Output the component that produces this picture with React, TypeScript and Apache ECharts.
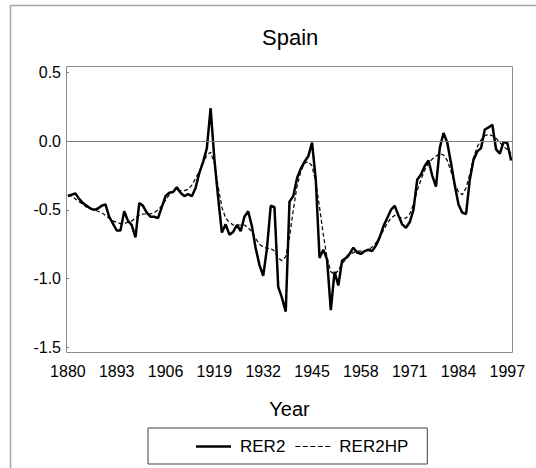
import React, { useEffect, useRef } from "react";
import * as echarts from "echarts";

// Categories: years 1880..1998
const FIRST_YEAR = 1880;
const LAST_YEAR = 1998;
const years: string[] = [];
for (let y = FIRST_YEAR; y <= LAST_YEAR; y++) years.push(String(y));

// RER2 (solid), 1880..1998
const rer2: number[] = [
  -0.40, -0.39, -0.38, -0.42, -0.45, -0.47, -0.49, -0.50, -0.49, -0.47, // 1880-1889
  -0.46, -0.55, -0.60, -0.65, -0.65, -0.51, -0.58, -0.61, -0.70, -0.45, // 1890-1899
  -0.47, -0.52, -0.55, -0.55, -0.56, -0.48, -0.40, -0.375, -0.37, -0.335, // 1900-1909
  -0.375, -0.40, -0.385, -0.40, -0.34, -0.23, -0.15, -0.05, 0.24, -0.13, // 1910-1919
  -0.41, -0.665, -0.605, -0.68, -0.66, -0.61, -0.655, -0.55, -0.51, -0.62, // 1920-1929
  -0.78, -0.90, -0.98, -0.78, -0.47, -0.48, -1.06, -1.14, -1.24, -0.44, // 1930-1939
  -0.40, -0.27, -0.20, -0.15, -0.11, -0.01, -0.28, -0.85, -0.79, -0.86, // 1940-1949
  -1.23, -0.95, -1.05, -0.87, -0.85, -0.82, -0.775, -0.81, -0.82, -0.80, // 1950-1959
  -0.79, -0.80, -0.76, -0.70, -0.62, -0.56, -0.50, -0.47, -0.54, -0.605, // 1960-1969
  -0.63, -0.59, -0.50, -0.28, -0.243, -0.18, -0.14, -0.25, -0.33, -0.05, // 1970-1979
  0.06, -0.01, -0.16, -0.32, -0.46, -0.52, -0.53, -0.28, -0.134, -0.074, // 1980-1989
  -0.05, 0.085, 0.10, 0.12, -0.06, -0.09, -0.005, -0.015, -0.14, // 1990-1998
];

// RER2HP (dashed, HP trend), 1880..1998
const rer2hp: number[] = [
  -0.39, -0.40, -0.42, -0.44, -0.46, -0.48, -0.49, -0.50, -0.51, -0.52, // 1880-1889
  -0.54, -0.56, -0.58, -0.59, -0.60, -0.60, -0.59, -0.58, -0.56, -0.54, // 1890-1899
  -0.53, -0.53, -0.53, -0.52, -0.50, -0.47, -0.43, -0.39, -0.37, -0.36, // 1900-1909
  -0.36, -0.36, -0.35, -0.32, -0.27, -0.22, -0.16, -0.10, -0.08, -0.16, // 1910-1919
  -0.33, -0.48, -0.56, -0.59, -0.61, -0.61, -0.61, -0.61, -0.63, -0.66, // 1920-1929
  -0.71, -0.75, -0.77, -0.78, -0.78, -0.80, -0.85, -0.87, -0.84, -0.70, // 1930-1939
  -0.50, -0.33, -0.22, -0.16, -0.15, -0.18, -0.30, -0.48, -0.68, -0.85, // 1940-1949
  -0.95, -0.97, -0.94, -0.89, -0.86, -0.83, -0.81, -0.80, -0.80, -0.80, // 1950-1959
  -0.79, -0.77, -0.74, -0.70, -0.65, -0.60, -0.56, -0.54, -0.55, -0.56, // 1960-1969
  -0.56, -0.53, -0.46, -0.36, -0.28, -0.21, -0.16, -0.13, -0.11, -0.09, // 1970-1979
  -0.10, -0.14, -0.22, -0.31, -0.37, -0.39, -0.34, -0.24, -0.12, -0.04, // 1980-1989
  0.01, 0.04, 0.05, 0.04, 0.02, -0.01, -0.04, -0.06, -0.09, // 1990-1998
];

const FONT = '"Liberation Sans", Arial, Helvetica, sans-serif';

// Legend sample icons (35 x 14 boxes): a solid bar and five short dashes
const SOLID_ICON = "path://M0,0L0,0M35,14L35,14M0,5.75H35V8.25H0Z";
const DASH_ICON =
  "path://M0,0L0,0M35,14L35,14" +
  "M0,6.4H5V7.6H0Z" +
  "M7.5,6.4H12.5V7.6H7.5Z" +
  "M15,6.4H20V7.6H15Z" +
  "M22.5,6.4H27.5V7.6H22.5Z" +
  "M30,6.4H35V7.6H30Z";

export default function App() {
  const ref = useRef<HTMLDivElement>(null);

  useEffect(() => {
    if (!ref.current) return;
    const chart = echarts.init(ref.current, null, { renderer: "svg" });
    chart.setOption({
      animation: false,
      backgroundColor: "#ffffff",
      title: {
        text: "Spain",
        left: 262,
        top: 26,
        padding: 0,
        textStyle: { fontFamily: FONT, fontSize: 22, fontWeight: "normal", color: "#000" },
      },
      grid: { left: 66, right: 23, top: 72.5, bottom: 120.7, containLabel: false },
      xAxis: {
        type: "category",
        data: years,
        boundaryGap: true,
        axisLine: { show: false },
        axisTick: { show: false },
        splitLine: { show: false },
        axisLabel: { interval: 12, fontSize: 16, color: "#000", fontFamily: FONT, margin: 16 },
        name: "Year",
        nameLocation: "middle",
        nameGap: 52,
        nameTextStyle: { fontSize: 20, color: "#000", fontFamily: FONT },
      },
      yAxis: {
        type: "value",
        min: -1.5,
        max: 0.5,
        interval: 0.5,
        axisLine: { show: false },
        axisTick: { show: true, inside: true, length: 3, lineStyle: { color: "#808080" } },
        splitLine: { show: false },
        axisLabel: {
          formatter: (v: number) => v.toFixed(1),
          fontSize: 16,
          color: "#000",
          margin: 5,
          fontFamily: FONT,
        },
      },
      legend: {
        data: [
          { name: "RER2", icon: SOLID_ICON },
          { name: "RER2HP", icon: DASH_ICON },
        ],
        left: 148,
        top: 428,
        orient: "horizontal",
        padding: [10, 19, 9, 48],
        itemWidth: 35,
        itemHeight: 14,
        itemGap: 10,
        borderColor: "#404040",
        borderWidth: 1,
        itemStyle: { color: "#000", borderWidth: 0 },
        textStyle: { fontSize: 17, color: "#000", fontFamily: FONT, padding: [0, 0, 0, 4] },
      },
      graphic: [
        {
          type: "rect",
          silent: true,
          shape: { x: 66.5, y: 66.5, width: 446, height: 286 },
          style: { fill: "none", stroke: "#8c8c8c", lineWidth: 1 },
        },
        {
          type: "polyline",
          silent: true,
          shape: { points: [[10.5, 468], [10.5, 5.5], [536, 5.5]] },
          style: { fill: "none", stroke: "#a6a6a6", lineWidth: 1.5 },
        },
      ],
      series: [
        {
          name: "RER2",
          type: "line",
          data: rer2,
          symbol: "none",
          showSymbol: false,
          lineStyle: { color: "#000", width: 2.5 },
          itemStyle: { color: "#000" },
          emphasis: { disabled: true },
          z: 3,
          markLine: {
            silent: true,
            symbol: "none",
            label: { show: false },
            lineStyle: { color: "#808080", width: 1, type: "solid" },
            data: [{ yAxis: 0 }],
          },
        },
        {
          name: "RER2HP",
          type: "line",
          data: rer2hp,
          symbol: "none",
          showSymbol: false,
          lineStyle: { color: "#000", width: 1.2, type: [4, 2.5] },
          itemStyle: { color: "#000" },
          emphasis: { disabled: true },
          z: 2,
        },
      ],
    });
    return () => chart.dispose();
  }, []);

  return (
    <div
      ref={ref}
      style={{ position: "absolute", left: 0, top: 0, width: 536, height: 468, background: "#fff" }}
    />
  );
}
